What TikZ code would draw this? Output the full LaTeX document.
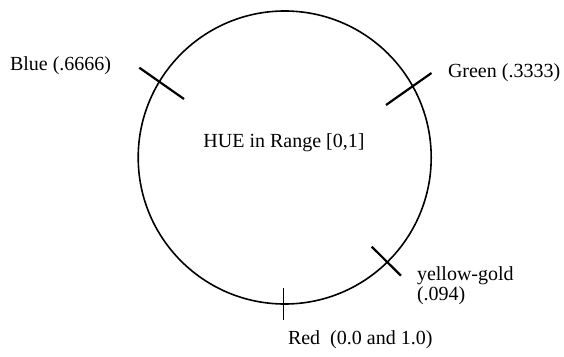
\documentclass[tikz,border=0pt]{standalone}
\usepackage{fontspec}
\setmainfont{Liberation Serif}
\begin{document}
\begin{tikzpicture}[x=1pt,y=-1pt,
  lbl/.style={inner sep=0pt,outer sep=0pt,font=\fontsize{20}{21}\selectfont},
  rim/.style={line width=1.6pt,black},
  tick/.style={line width=2.2pt,black}]
\useasboundingbox (0,0) rectangle (564,356);
\coordinate (c) at (284.7,157.5);
\draw[rim] (c) circle[radius=146.5pt];
% ticks
\coordinate (b1) at (139.3,67.7);  \coordinate (b2) at (184,99);
\coordinate (g1) at (386,105);     \coordinate (g2) at (431.5,73);
\coordinate (y1) at (371.7,246.7); \coordinate (y2) at (401,275.7);
\coordinate (r1) at (283.3,288.3); \coordinate (r2) at (283.3,320);
\draw[tick] (b1) -- (b2);
\draw[tick] (g1) -- (g2);
\draw[tick] (y1) -- (y2);
\draw[line width=1.6pt] (r1) -- (r2);
% labels
\node[lbl,anchor=base west] (blue) at (10,70) {Blue (.6666)};
\node[lbl,anchor=base west] (green) at (448,77) {Green (.3333)};
\node[lbl,anchor=base] (hue) at (284,147) {HUE in Range [0,1]};
\node[lbl,anchor=base west] (yg) at (417,280) {yellow-gold};
\node[lbl,anchor=base west] (ygv) at (417,300.5) {(.094)};
\node[lbl,anchor=base west] (red) at (288,344) {Red\ \ (0.0 and 1.0)};
\end{tikzpicture}
\end{document}
